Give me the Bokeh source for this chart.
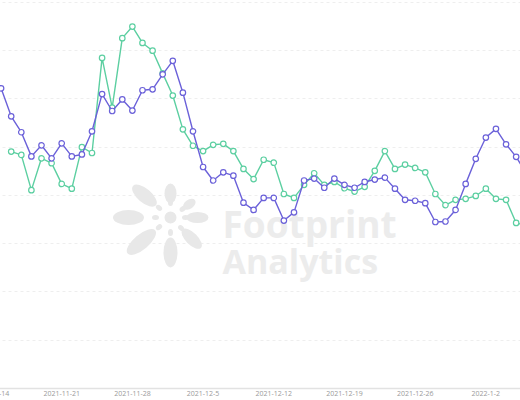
import math
import numpy as np
from bokeh.plotting import figure
from bokeh.models import Range1d, FixedTicker, Grid, LinearAxis
from bokeh.core.properties import value
from bokeh.embed import file_html
from bokeh.resources import INLINE

# ---------------- data (one point per day, starting 2021-11-15) ----------------
day_index = list(range(53))
series_purple = [62.2, 56.4, 53.1, 48.1, 50.4, 47.7, 50.8, 48.1, 48.5, 53.3,
                 61.0, 57.5, 59.9, 57.6, 61.8, 62.0, 65.1, 67.9, 61.3, 53.3,
                 45.9, 43.1, 44.8, 44.1, 38.5, 37.0, 39.5, 39.5, 34.8, 36.5,
                 43.1, 43.5, 41.6, 43.5, 42.2, 41.6, 42.8, 43.3, 43.7, 41.4,
                 39.1, 38.9, 38.4, 34.5, 34.6, 37.0, 42.4, 47.6, 52.0, 53.8,
                 50.6, 48.0, 44.6]
series_green = [float("nan"), 49.1, 48.4, 41.1, 47.7, 46.7, 42.4, 41.4, 50.0, 48.8,
                68.5, 58.2, 72.6, 75.0, 71.6, 70.0, 65.3, 60.7, 53.7, 50.3,
                49.2, 50.5, 50.7, 49.2, 45.5, 43.4, 47.4, 46.8, 40.3, 39.5,
                42.2, 44.6, 42.2, 42.8, 41.5, 40.8, 41.8, 45.1, 49.2, 45.5,
                46.4, 45.7, 44.8, 40.3, 38.0, 39.1, 39.3, 39.9, 41.4, 39.3,
                39.1, 34.3, 33.8]
tick_days = [-1, 6, 13, 20, 27, 34, 41, 48]
tick_labels = ["2021-11-14", "2021-11-21", "2021-11-28", "2021-12-5",
               "2021-12-12", "2021-12-19", "2021-12-26", "2022-1-2"]
grid_values = [10, 20, 30, 40, 50, 60, 70, 80]

PURPLE = "#6b61d9"
GREEN = "#5ccfa1"

p = figure(frame_width=560, frame_height=388,
           x_range=Range1d(-4.02, 51.43), y_range=Range1d(0, 80.4),
           x_axis_location=None, y_axis_location=None,
           output_backend="svg", toolbar_location=None,
           min_border_left=0, min_border_right=0, min_border_top=0, min_border_bottom=0)
p.outline_line_color = None
p.background_fill_color = "white"
p.border_fill_color = "white"
p.styles = {"margin-left": "-40px"}
p.center = [r for r in p.center if not isinstance(r, Grid)]

xaxis = LinearAxis(ticker=FixedTicker(ticks=tick_days),
                   major_label_overrides={d: l for d, l in zip(tick_days, tick_labels)})
xaxis.axis_line_color = "#e2e2e2"
xaxis.axis_line_width = 1.5
xaxis.major_tick_line_color = None
xaxis.minor_tick_line_color = None
xaxis.major_tick_out = 0
xaxis.major_tick_in = 0
xaxis.major_label_standoff = 2
xaxis.major_label_text_font = "Open Sans"
xaxis.major_label_text_font_size = "7px"
xaxis.major_label_text_color = "#9a9a9a"
p.add_layout(xaxis, "below")

p.add_layout(Grid(dimension=1, ticker=FixedTicker(ticks=grid_values),
                  grid_line_color="#eeeeee", grid_line_dash="3 3", grid_line_width=1))

# ---------------- watermark (pixel coordinates) ----------------
p.extra_x_ranges = {"px": Range1d(-40, 520)}
p.extra_y_ranges = {"px": Range1d(388, 0)}
wm = "#e8e8e8"
cx, cy = 170, 217
petals = [(180, 42, 31, 15), (140, 34, 30, 14), (90, 24, 20, 12), (35, 23, 14, 9),
          (0, 27, 22, 11), (-45, 30, 26, 12), (-90, 35, 30, 14), (-140, 38, 36, 15)]
ex, ey, ew, eh, ea = [], [], [], [], []
for a, d, L, w in petals:
    r = math.radians(a)
    ex.append(cx + d * math.cos(r)); ey.append(cy - d * math.sin(r))
    ew.append(L); eh.append(w); ea.append(r)
    ex.append(cx + 15 * math.cos(r)); ey.append(cy - 15 * math.sin(r))
    ew.append(7); eh.append(5); ea.append(r)
p.ellipse(x=ex, y=ey, width=ew, height=eh, angle=ea, width_units="screen",
          height_units="screen", fill_color=wm, line_color=None,
          x_range_name="px", y_range_name="px")
p.scatter(x=[cx], y=[cy], size=12, fill_color=wm, line_color=None,
          x_range_name="px", y_range_name="px")
p.text(x=[222], y=[223], text=["Footprint"], text_font=value("Open Sans"),
       text_font_style="bold", text_font_size="37px", text_color="#ececec",
       text_baseline="alphabetic", x_range_name="px", y_range_name="px")
p.text(x=[222], y=[260], text=["Analytics"], text_font=value("Open Sans"),
       text_font_style="bold", text_font_size="34px", text_color="#ececec",
       text_baseline="alphabetic", x_range_name="px", y_range_name="px")

# ---------------- series ----------------
for ys, col in [(series_green, GREEN), (series_purple, PURPLE)]:
    p.line(day_index, ys, line_color=col, line_width=1.4)
    p.scatter(day_index, ys, marker="circle", size=5.5, fill_color="white",
              line_color=col, line_width=1.2)

open("out.html", "w").write(file_html(p, INLINE))
